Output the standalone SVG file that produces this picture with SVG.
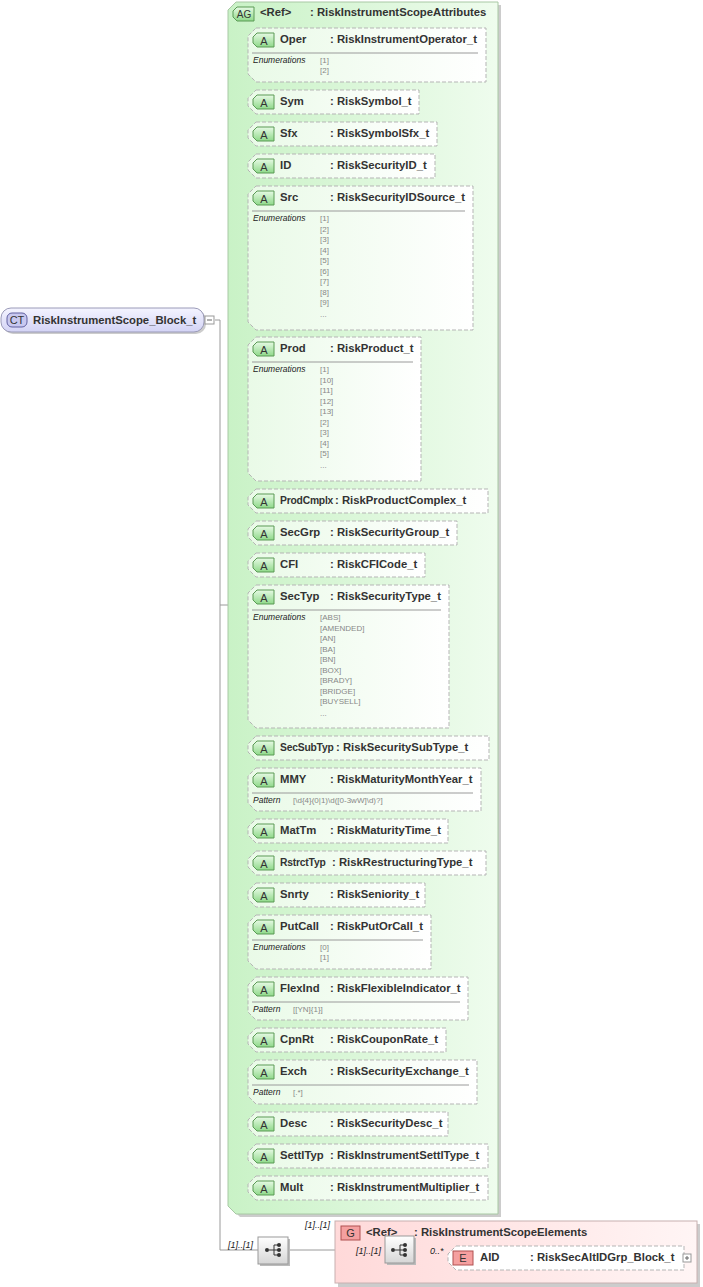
<svg xmlns="http://www.w3.org/2000/svg" width="703" height="1287" viewBox="0 0 703 1287">
<defs>
<linearGradient id="gAG" x1="0" y1="0" x2="1" y2="0"><stop offset="0" stop-color="#c9f2c6"/><stop offset="1" stop-color="#effcee"/></linearGradient>
<linearGradient id="gA" x1="0" y1="0" x2="0" y2="1"><stop offset="0" stop-color="#e6fae4"/><stop offset="1" stop-color="#8fd98a"/></linearGradient>
<linearGradient id="gBox" x1="0" y1="0" x2="1" y2="0"><stop offset="0" stop-color="#e9fae7"/><stop offset="1" stop-color="#ffffff"/></linearGradient>
<linearGradient id="gCT" x1="0" y1="0" x2="0" y2="1"><stop offset="0" stop-color="#f4f4ff"/><stop offset="1" stop-color="#d3d3f5"/></linearGradient>
<linearGradient id="gG" x1="0" y1="0" x2="1" y2="0"><stop offset="0" stop-color="#ffd9d9"/><stop offset="1" stop-color="#fff5f5"/></linearGradient>
<linearGradient id="gSeq" x1="0" y1="0" x2="0" y2="1"><stop offset="0" stop-color="#ffffff"/><stop offset="1" stop-color="#d6d6d6"/></linearGradient>
<g id="seqIcon"><circle cx="-7" cy="0" r="2" fill="#333"/><path d="M-5,0H0M0,-5V5M0,-5H4M0,0H4M0,5H4" stroke="#333" fill="none"/><circle cx="5" cy="-5" r="2" fill="#333"/><circle cx="5" cy="0" r="2" fill="#333"/><circle cx="5" cy="5" r="2" fill="#333"/></g>
</defs>
<style>
.ab{fill:url(#gBox);stroke:#b5b5b5;stroke-dasharray:4,2;}
.ai{fill:url(#gA);stroke:#5a9a55;}
.it{font:11px "Liberation Sans",Arial,sans-serif;fill:#333;text-anchor:middle;}
.nm{font:bold 11.3px "Liberation Sans",Arial,sans-serif;fill:#333;}
.nms{font:bold 10.3px "Liberation Sans",Arial,sans-serif;fill:#333;letter-spacing:-0.2px;}
.sep{stroke:#9a9a9a;}
.lb{font:italic 8.5px "Liberation Sans",Arial,sans-serif;fill:#222;}
.vl{font:8px "Liberation Sans",Arial,sans-serif;fill:#888;}
.ln{stroke:#9a9a9a;fill:none;}
.card{font:italic 9px "Liberation Sans",Arial,sans-serif;fill:#222;}
</style>

<g id="connectors">
<path class="ln" d="M215,320H220V1250H258M220,605H228M288,1250H335M335,1250H385M414,1250H448"/>
<path class="ln" d="M236,55V1188"/>
<path class="ln" d="M236,55H248M236,102H248M236,134H248M236,166H248M236,258H248M236,409H248M236,501H248M236,533H248M236,565H248M236,656H248M236,748H248M236,780H248M236,831H248M236,863H248M236,895H248M236,942H248M236,989H248M236,1040H248M236,1082H248M236,1124H248M236,1156H248M236,1188H248"/>
</g>

<g id="n-CT">
<rect x="3" y="310" width="203" height="24" rx="10" fill="#ccc"/>
<rect x="1" y="308" width="203" height="24" rx="10" fill="url(#gCT)" stroke="#9a9ab8"/>
<rect x="7" y="313" width="20" height="14" rx="5" fill="#c8c8f0" stroke="#6060a0"/>
<text class="it" x="17" y="324" fill="#336">CT</text>
<text class="nm" x="33" y="324">RiskInstrumentScope_Block_t</text>
<rect x="205" y="316" width="9" height="8" fill="#fff" stroke="#999"/><path d="M207,320H212" stroke="#666"/>
</g>

<g id="n-AG">
<path d="M240,5H501V1217H240L231,1208V14Z" fill="#ccc"/>
<path d="M236,2H498V1214H236L228,1206V10Z" fill="url(#gAG)" stroke="#a8c8a4"/>
<path d="M237,7H254V21H237L233,17V11Z" class="ai"/>
<text class="it" x="244" y="18" style="font-size:10px">AG</text>
<text class="nm" x="260" y="16">&lt;Ref&gt;</text>
<text class="nm" x="310" y="16">: RiskInstrumentScopeAttributes</text>
</g>

<g id="n-Oper"><path class="ab" d="M256,28H486V82H256L248,74V36Z"/><path class="ai" d="M257,33H274V47H257L253,43V37Z"/><text class="it" x="264" y="45">A</text><text class="nm" x="280" y="43">Oper</text><text class="nm" x="330" y="43">: RiskInstrumentOperator_t</text><path class="sep" d="M252,53H478"/><text class="lb" x="253" y="63">Enumerations</text><text class="vl" x="320" y="63">[1]</text><text class="vl" x="320" y="73">[2]</text></g>

<g id="n-Sym"><path class="ab" d="M256,90H419V114H256L248,106V98Z"/><path class="ai" d="M257,95H274V109H257L253,105V99Z"/><text class="it" x="264" y="107">A</text><text class="nm" x="280" y="105">Sym</text><text class="nm" x="330" y="105">: RiskSymbol_t</text></g>
<g id="n-Sfx"><path class="ab" d="M256,122H437V146H256L248,138V130Z"/><path class="ai" d="M257,127H274V141H257L253,137V131Z"/><text class="it" x="264" y="139">A</text><text class="nm" x="280" y="137">Sfx</text><text class="nm" x="330" y="137">: RiskSymbolSfx_t</text></g>
<g id="n-ID"><path class="ab" d="M256,154H435V178H256L248,170V162Z"/><path class="ai" d="M257,159H274V173H257L253,169V163Z"/><text class="it" x="264" y="171">A</text><text class="nm" x="280" y="169">ID</text><text class="nm" x="330" y="169">: RiskSecurityID_t</text></g>

<g id="n-Src"><path class="ab" d="M256,186H473V330H256L248,322V194Z"/><path class="ai" d="M257,191H274V205H257L253,201V195Z"/><text class="it" x="264" y="203">A</text><text class="nm" x="280" y="201">Src</text><text class="nm" x="330" y="201">: RiskSecurityIDSource_t</text><path class="sep" d="M252,211H465"/><text class="lb" x="253" y="221">Enumerations</text>
<text class="vl" x="320" y="221">[1]</text><text class="vl" x="320" y="231.5">[2]</text><text class="vl" x="320" y="242">[3]</text><text class="vl" x="320" y="252.5">[4]</text><text class="vl" x="320" y="263">[5]</text><text class="vl" x="320" y="273.5">[6]</text><text class="vl" x="320" y="284">[7]</text><text class="vl" x="320" y="294.5">[8]</text><text class="vl" x="320" y="305">[9]</text><text class="vl" x="320" y="317">...</text></g>

<g id="n-Prod"><path class="ab" d="M256,337H421V481H256L248,473V345Z"/><path class="ai" d="M257,342H274V356H257L253,352V346Z"/><text class="it" x="264" y="354">A</text><text class="nm" x="280" y="352">Prod</text><text class="nm" x="330" y="352">: RiskProduct_t</text><path class="sep" d="M252,362H413"/><text class="lb" x="253" y="372">Enumerations</text>
<text class="vl" x="320" y="372">[1]</text><text class="vl" x="320" y="382.5">[10]</text><text class="vl" x="320" y="393">[11]</text><text class="vl" x="320" y="403.5">[12]</text><text class="vl" x="320" y="414">[13]</text><text class="vl" x="320" y="424.5">[2]</text><text class="vl" x="320" y="435">[3]</text><text class="vl" x="320" y="445.5">[4]</text><text class="vl" x="320" y="456">[5]</text><text class="vl" x="320" y="468">...</text></g>

<g id="n-ProdCmplx"><path class="ab" d="M256,489H488V513H256L248,505V497Z"/><path class="ai" d="M257,494H274V508H257L253,504V498Z"/><text class="it" x="264" y="506">A</text><text class="nms" x="280" y="504">ProdCmplx</text><text class="nm" x="335" y="504">: RiskProductComplex_t</text></g>
<g id="n-SecGrp"><path class="ab" d="M256,521H457V545H256L248,537V529Z"/><path class="ai" d="M257,526H274V540H257L253,536V530Z"/><text class="it" x="264" y="538">A</text><text class="nm" x="280" y="536">SecGrp</text><text class="nm" x="330" y="536">: RiskSecurityGroup_t</text></g>
<g id="n-CFI"><path class="ab" d="M256,553H425V577H256L248,569V561Z"/><path class="ai" d="M257,558H274V572H257L253,568V562Z"/><text class="it" x="264" y="570">A</text><text class="nm" x="280" y="568">CFI</text><text class="nm" x="330" y="568">: RiskCFICode_t</text></g>

<g id="n-SecTyp"><path class="ab" d="M256,585H449V728H256L248,720V593Z"/><path class="ai" d="M257,590H274V604H257L253,600V594Z"/><text class="it" x="264" y="602">A</text><text class="nm" x="280" y="600">SecTyp</text><text class="nm" x="330" y="600">: RiskSecurityType_t</text><path class="sep" d="M252,610H441"/><text class="lb" x="253" y="620">Enumerations</text>
<text class="vl" x="320" y="620">[ABS]</text><text class="vl" x="320" y="630.5">[AMENDED]</text><text class="vl" x="320" y="641">[AN]</text><text class="vl" x="320" y="651.5">[BA]</text><text class="vl" x="320" y="662">[BN]</text><text class="vl" x="320" y="672.5">[BOX]</text><text class="vl" x="320" y="683">[BRADY]</text><text class="vl" x="320" y="693.5">[BRIDGE]</text><text class="vl" x="320" y="704">[BUYSELL]</text><text class="vl" x="320" y="716">...</text></g>

<g id="n-SecSubTyp"><path class="ab" d="M256,736H489V760H256L248,752V744Z"/><path class="ai" d="M257,741H274V755H257L253,751V745Z"/><text class="it" x="264" y="753">A</text><text class="nms" x="280" y="751">SecSubTyp</text><text class="nm" x="336" y="751">: RiskSecuritySubType_t</text></g>
<g id="n-MMY"><path class="ab" d="M256,768H481V811H256L248,803V776Z"/><path class="ai" d="M257,773H274V787H257L253,783V777Z"/><text class="it" x="264" y="785">A</text><text class="nm" x="280" y="783">MMY</text><text class="nm" x="330" y="783">: RiskMaturityMonthYear_t</text><path class="sep" d="M252,793H473"/><text class="lb" x="253" y="803">Pattern</text><text class="vl" x="293" y="803">[\d{4}(0|1)\d([0-3wW]\d)?]</text></g>
<g id="n-MatTm"><path class="ab" d="M256,819H448V843H256L248,835V827Z"/><path class="ai" d="M257,824H274V838H257L253,834V828Z"/><text class="it" x="264" y="836">A</text><text class="nm" x="280" y="834">MatTm</text><text class="nm" x="330" y="834">: RiskMaturityTime_t</text></g>
<g id="n-RstrctTyp"><path class="ab" d="M256,851H486V875H256L248,867V859Z"/><path class="ai" d="M257,856H274V870H257L253,866V860Z"/><text class="it" x="264" y="868">A</text><text class="nms" x="280" y="866">RstrctTyp</text><text class="nm" x="332" y="866">: RiskRestructuringType_t</text></g>
<g id="n-Snrty"><path class="ab" d="M256,883H425V907H256L248,899V891Z"/><path class="ai" d="M257,888H274V902H257L253,898V892Z"/><text class="it" x="264" y="900">A</text><text class="nm" x="280" y="898">Snrty</text><text class="nm" x="330" y="898">: RiskSeniority_t</text></g>
<g id="n-PutCall"><path class="ab" d="M256,915H431V969H256L248,961V923Z"/><path class="ai" d="M257,920H274V934H257L253,930V924Z"/><text class="it" x="264" y="932">A</text><text class="nm" x="280" y="930">PutCall</text><text class="nm" x="330" y="930">: RiskPutOrCall_t</text><path class="sep" d="M252,940H423"/><text class="lb" x="253" y="950">Enumerations</text><text class="vl" x="320" y="950">[0]</text><text class="vl" x="320" y="960">[1]</text></g>
<g id="n-FlexInd"><path class="ab" d="M256,977H468V1020H256L248,1012V985Z"/><path class="ai" d="M257,982H274V996H257L253,992V986Z"/><text class="it" x="264" y="994">A</text><text class="nm" x="280" y="992">FlexInd</text><text class="nm" x="330" y="992">: RiskFlexibleIndicator_t</text><path class="sep" d="M252,1002H460"/><text class="lb" x="253" y="1012">Pattern</text><text class="vl" x="293" y="1012">[[YN]{1}]</text></g>
<g id="n-CpnRt"><path class="ab" d="M256,1028H446V1052H256L248,1044V1036Z"/><path class="ai" d="M257,1033H274V1047H257L253,1043V1037Z"/><text class="it" x="264" y="1045">A</text><text class="nm" x="280" y="1043">CpnRt</text><text class="nm" x="330" y="1043">: RiskCouponRate_t</text></g>
<g id="n-Exch"><path class="ab" d="M256,1060H477V1104H256L248,1096V1068Z"/><path class="ai" d="M257,1065H274V1079H257L253,1075V1069Z"/><text class="it" x="264" y="1077">A</text><text class="nm" x="280" y="1075">Exch</text><text class="nm" x="330" y="1075">: RiskSecurityExchange_t</text><path class="sep" d="M252,1085H469"/><text class="lb" x="253" y="1095">Pattern</text><text class="vl" x="293" y="1095">[.*]</text></g>
<g id="n-Desc"><path class="ab" d="M256,1112H448V1136H256L248,1128V1120Z"/><path class="ai" d="M257,1117H274V1131H257L253,1127V1121Z"/><text class="it" x="264" y="1129">A</text><text class="nm" x="280" y="1127">Desc</text><text class="nm" x="330" y="1127">: RiskSecurityDesc_t</text></g>
<g id="n-SettlTyp"><path class="ab" d="M256,1144H488V1168H256L248,1160V1152Z"/><path class="ai" d="M257,1149H274V1163H257L253,1159V1153Z"/><text class="it" x="264" y="1161">A</text><text class="nm" x="280" y="1159">SettlTyp</text><text class="nm" x="330" y="1159">: RiskInstrumentSettlType_t</text></g>
<g id="n-Mult"><path class="ab" d="M256,1176H488V1200H256L248,1192V1184Z"/><path class="ai" d="M257,1181H274V1195H257L253,1191V1185Z"/><text class="it" x="264" y="1193">A</text><text class="nm" x="280" y="1191">Mult</text><text class="nm" x="330" y="1191">: RiskInstrumentMultiplier_t</text></g>

<g id="n-seq1">
<text class="card" x="228" y="1248">[1]..[1]</text>
<rect x="260" y="1239" width="30" height="27" fill="#bbb"/>
<rect x="258" y="1237" width="30" height="27" fill="url(#gSeq)" stroke="#999"/>
<use href="#seqIcon" x="274" y="1250"/>
</g>

<g id="n-G">
<text class="card" x="305" y="1228">[1]..[1]</text>
<rect x="338" y="1224" width="362" height="63" fill="#ccc"/>
<rect x="335" y="1221" width="362" height="62" fill="url(#gG)" stroke="#c8b0b0"/>
<rect x="341" y="1226" width="19" height="14" fill="#f5a0a0" stroke="#b05050"/>
<text class="it" x="350.5" y="1237">G</text>
<text class="nm" x="366" y="1236">&lt;Ref&gt;</text>
<text class="nm" x="414" y="1236">: RiskInstrumentScopeElements</text>
</g>

<g id="n-seq2">
<text class="card" x="356" y="1254">[1]..[1]</text>
<rect x="387" y="1238" width="29" height="27" fill="#bbb"/>
<rect x="385" y="1236" width="29" height="27" fill="url(#gSeq)" stroke="#999"/>
<use href="#seqIcon" x="400" y="1250"/>
</g>

<g id="n-AID">
<text class="card" x="430" y="1254">0..*</text>
<path class="ab" d="M456,1246H684V1270H456L448,1262V1254Z" style="fill:#fff"/>
<rect x="453" y="1251" width="20" height="14" fill="#f5a0a0" stroke="#b05050"/>
<text class="it" x="463" y="1262">E</text>
<text class="nm" x="480" y="1261">AID</text>
<text class="nm" x="530" y="1261">: RiskSecAltIDGrp_Block_t</text>
<rect x="683" y="1254" width="8" height="8" fill="#fff" stroke="#999"/><path d="M685,1258H689M687,1256V1260" stroke="#666"/>
</g>
</svg>
